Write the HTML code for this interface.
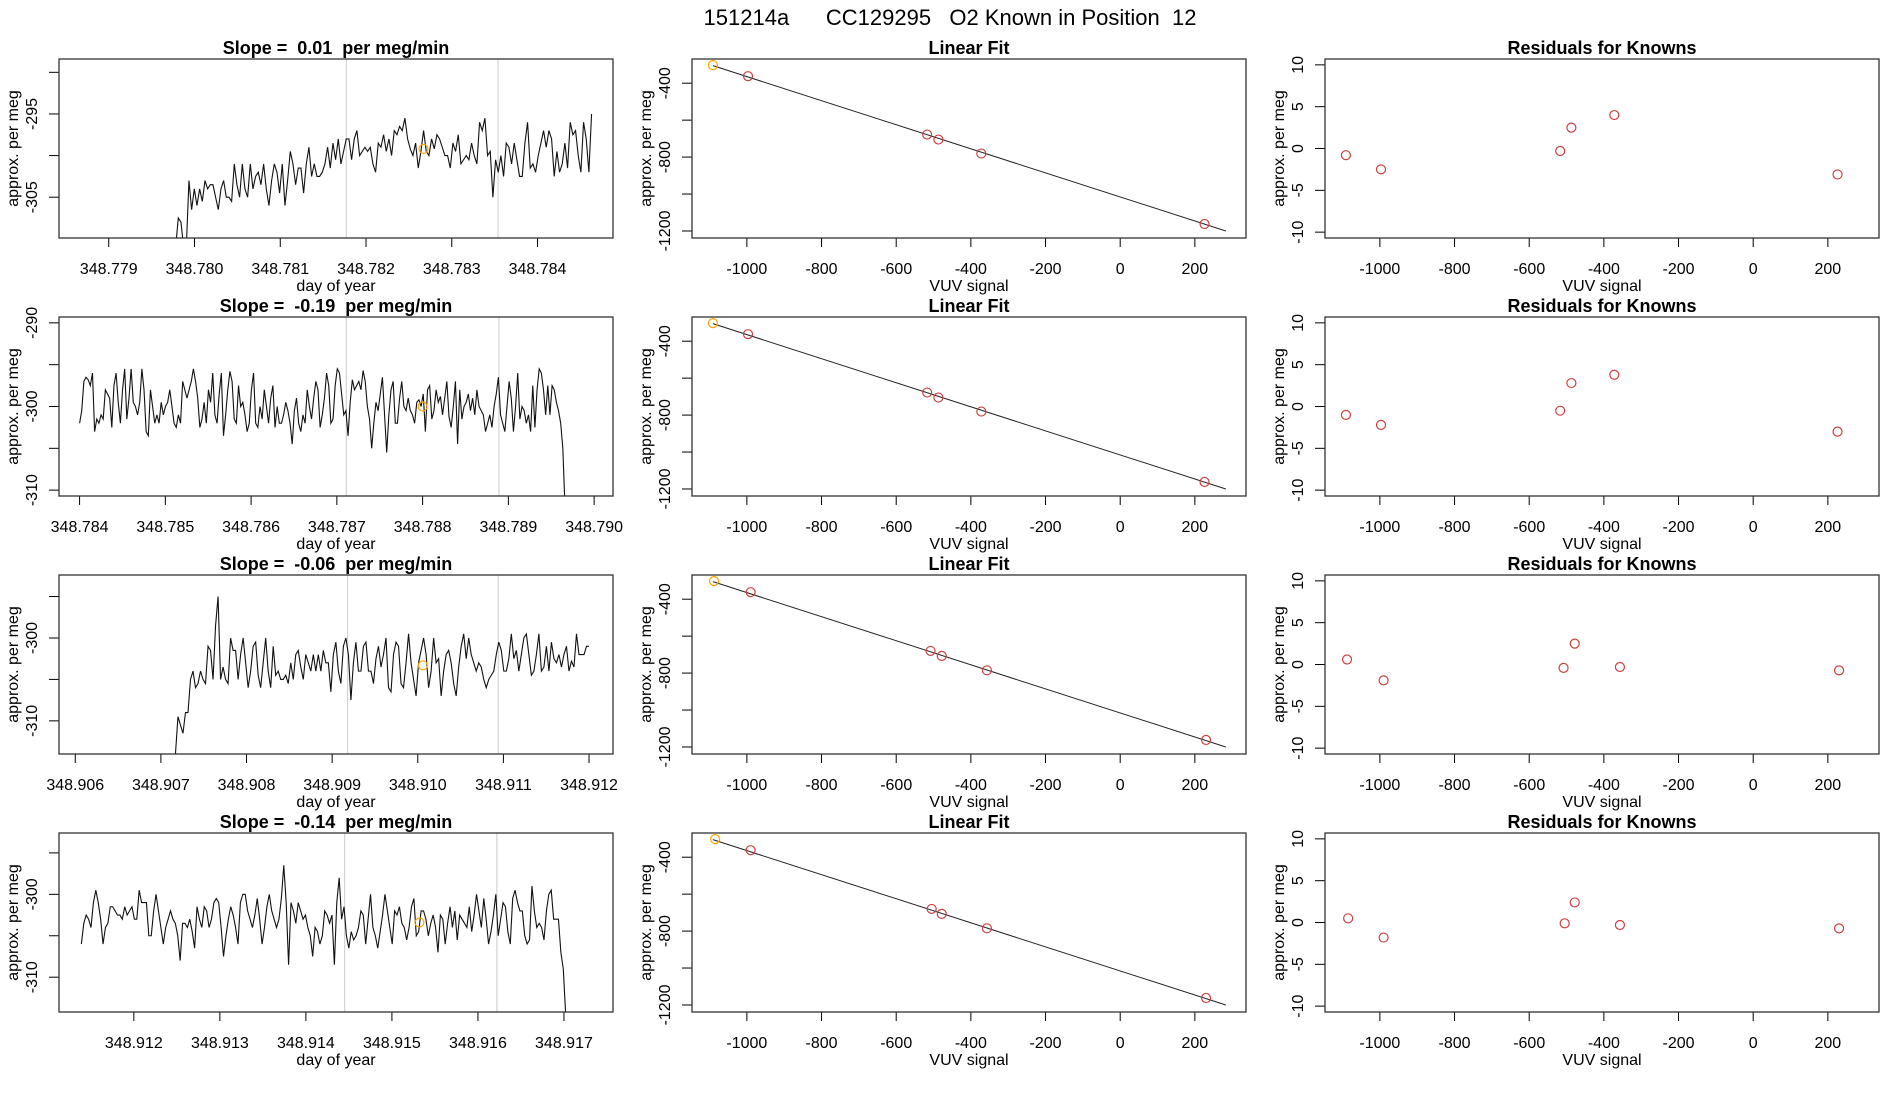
<!DOCTYPE html>
<html><head><meta charset="utf-8"><style>
html,body{margin:0;padding:0;background:#fff;}
svg{display:block;font-family:"Liberation Sans",Arial,sans-serif;}
svg text{white-space:pre;}
</style></head><body>
<svg id="fig" width="1900" height="1100" viewBox="0 0 1900 1100">
<rect x="0" y="0" width="1900" height="1100" fill="#fff"/>
<text x="950" y="25" font-size="22" text-anchor="middle" xml:space="preserve">151214a      CC129295   O2 Known in Position  12</text>
</svg>
<script>
// ---------- DATA ----------
const slopeTitles = ["Slope =  0.01  per meg/min","Slope =  -0.19  per meg/min","Slope =  -0.06  per meg/min","Slope =  -0.14  per meg/min"];
const tsStart = [348.77978, 348.78400, 348.90717, 348.91139];
const tsEnd   = [348.78463, 348.78966, 348.91200, 348.91702];
const tsXRange = [[348.77842,348.78488],[348.78376,348.79022],[348.90581,348.91228],[348.91113,348.91757]];
const tsYRange = [[-309.9,-288.4],[-310.7,-289.3],[-314,-292.4],[-314.2,-292.6]];
const tsXTicks = [[348.779,348.780,348.781,348.782,348.783,348.784],[348.784,348.785,348.786,348.787,348.788,348.789,348.790],[348.906,348.907,348.908,348.909,348.910,348.911,348.912],[348.912,348.913,348.914,348.915,348.916,348.917]];
const tsYTicks = [[-305,-300,-295,-290],[-310,-305,-300,-295,-290],[-310,-305,-300,-295],[-310,-305,-300,-295]];
const tsYLabels = [[-305,-295],[-310,-300,-290],[-310,-300],[-310,-300]];
const tsVLines = [[348.78177,348.78354],[348.78711,348.78889],[348.90918,348.91094],[348.91445,348.91622]];
const tsMarkX = [348.78267, 348.78800, 348.91006, 348.91532];
const tsMarkY = [-299.2, -300, -303.3, -303.4];
const ts1 = [-311,-307.5,-308,-311,-311,-303,-306.5,-304,-306,-304,-305.5,-303,-304,-303.5,-303.5,-305,-306.5,-304,-303,-305,-305,-305.5,-301,-303.5,-305,-301,-304,-305,-301,-304,-302.5,-302,-303.5,-301,-304,-306,-303,-301,-302,-304.5,-301,-306,-303,-299.5,-301,-303.5,-301.5,-301.5,-304.5,-301,-299,-302.5,-301,-302.5,-302.5,-302,-301,-299,-301.5,-298.5,-300.5,-298,-301,-299.5,-298,-298,-300.5,-298,-297,-300,-299.5,-299,-299.5,-299,-301,-302,-298.5,-299,-297.5,-299.5,-298,-300,-297,-297.5,-296.5,-297,-295.5,-298,-299.2,-300,-298.5,-301.5,-299.5,-297,-299.5,-300,-298,-299.2,-297.5,-298,-299,-300,-300,-301.5,-298.5,-299.5,-297.5,-301,-300.5,-300,-300.5,-298.5,-300,-301,-296,-297,-295.5,-300,-299.5,-305,-300.5,-302,-300,-302.5,-298.5,-299,-301,-298.5,-300.5,-302.5,-302.5,-298.5,-296,-301.5,-301,-302,-300,-298.5,-297,-299,-297,-298,-302.5,-299.5,-302,-301,-298.5,-301.5,-296,-297.5,-297,-300,-302,-296,-298,-302,-295];
const ts2 = [-302,-300.5,-297,-296.5,-296.8,-297.5,-296,-303,-301.5,-302,-301,-301.5,-298,-298.5,-299,-302.5,-297.5,-296,-299.5,-302,-298,-295.5,-301.5,-299,-295.5,-299.5,-300,-301,-299.5,-295.5,-298,-303,-303.5,-298,-300,-302,-301,-302,-299.5,-301,-300,-299.5,-298,-300,-302,-302.5,-301,-302,-297,-298,-299,-298,-297,-295.5,-297,-299,-302.5,-301.5,-299.5,-302,-298,-299.5,-296,-301,-302,-298.5,-296,-303.5,-301,-298,-295.8,-297,-301.5,-302,-297.5,-300,-299.5,-301,-303,-302,-298,-296,-302,-302.5,-300,-301.5,-298,-300,-302,-299,-297.5,-302.5,-300,-302,-302,-301,-299.5,-300.5,-302,-304.5,-300.5,-299,-302,-303,-301,-302,-298,-300,-301.5,-299,-297,-298,-302.5,-301,-299,-296,-297.5,-302,-301.5,-297.5,-295.5,-296,-298.5,-301,-300.5,-303.5,-299.5,-296.8,-298,-297.5,-297,-298,-295.7,-297,-300,-301.5,-305,-302,-299.5,-300.5,-298.5,-296.5,-301,-305.5,-301,-298,-297,-302,-302,-299,-297,-300,-300.5,-299,-300.5,-301,-302,-299.5,-299.2,-300,-298.5,-303,-298,-297.5,-301.5,-300.5,-298,-299.5,-298.8,-301,-299,-297,-301.2,-302.5,-300,-297,-304.5,-298,-301.5,-300,-299.5,-298.5,-300.5,-299,-301,-298,-300,-300.5,-301,-303,-302,-301,-302.5,-300,-298.5,-296.5,-301,-302,-303,-300,-297,-299,-303,-300,-296,-301.5,-300,-300.5,-302,-301,-303,-297.5,-302.5,-298,-295.5,-296,-298,-301,-297.5,-301,-297.5,-298,-299.5,-300.5,-302,-305,-312];
const ts3 = [-314,-309.5,-310.5,-311.5,-309,-309,-305,-304,-306,-305.5,-304,-305,-305.5,-301,-301.5,-305,-298.5,-295,-305,-303.5,-305,-305.5,-300,-301.5,-301.5,-305,-302,-300,-303,-306,-304,-301,-300.5,-304.5,-306,-303,-300,-304,-306,-301,-304.5,-304,-305,-305,-304.5,-305.5,-303,-305,-302,-301.5,-303.5,-305,-302,-303,-304,-302,-304,-302,-304,-301.5,-303,-303,-306.5,-302,-300.5,-304,-305.5,-301,-300,-302,-307.5,-303,-300.5,-304,-304,-301,-300.5,-304,-304,-305.5,-302.5,-301,-303.5,-302,-300,-306,-306.5,-302,-300.5,-301,-305.5,-306,-303,-299.5,-303,-305,-307,-303,-301.5,-300,-302,-306,-304,-300,-303,-302.5,-307,-304,-302,-301.5,-303,-305.5,-307,-303.5,-301,-299.5,-302.5,-300,-302,-303,-304,-303,-303.5,-305,-306,-305,-304.5,-304,-302,-300.5,-301.5,-304,-304,-302.5,-299.5,-302.5,-301.5,-304,-302,-300,-299.5,-302,-304.5,-304,-302,-299.5,-304,-303.5,-301,-304,-300.5,-302.5,-303,-302,-303.5,-302,-301,-304,-302.8,-303.5,-299.5,-302,-302,-302,-301,-301];
const ts4 = [-306,-303.5,-302.5,-303,-304,-301,-299.5,-301,-303,-306,-304,-303.5,-301.5,-301.5,-302,-302.5,-302.5,-303,-301.5,-302.5,-302,-301.5,-303,-303,-299.5,-301,-301,-301,-305,-305,-302,-300,-302,-304,-306,-304,-303,-302,-303,-303.5,-305,-308,-303.5,-303.5,-304,-303,-304.5,-306.5,-301.5,-303,-304,-301.5,-302,-304,-303,-301,-300.5,-301,-304,-307.5,-305,-303,-301.5,-302.5,-304,-306,-301,-300,-300,-302,-303,-304,-302.5,-300.5,-303,-306,-304,-301.5,-300,-302,-303,-304,-303,-300.5,-296.5,-301,-308.5,-301,-302,-303.5,-301,-302,-303,-302.5,-304,-305,-307.5,-304,-304.5,-306,-305,-302,-302.5,-303.5,-302.5,-308.5,-301,-298,-303,-301.5,-305,-306.5,-304.5,-305.5,-305,-304,-302,-302.5,-306,-303,-300,-304,-305,-306.5,-304.5,-302.5,-300,-302,-304,-306,-302,-302.5,-301.5,-303.5,-304,-305.5,-304,-301.5,-300.5,-305,-304.5,-302,-302,-303,-305,-303.5,-302.5,-304,-307,-302.5,-303,-306,-303.5,-301.5,-304,-302,-305.5,-302.5,-303,-303.5,-304,-301.5,-304.5,-302.5,-300,-302,-304,-300.5,-303,-306,-304.5,-302.5,-300,-305,-303,-301,-301.5,-304.5,-306,-300.5,-299.5,-301,-302,-302,-305,-306,-305.5,-299,-302,-304,-303.5,-304,-305.5,-302,-300,-299.5,-303,-303,-303,-307,-309,-314.5];
const tsSeries = [ts1, ts2, ts3, ts4];

// linear fit column
const fitXRange = [-1147, 337];
const fitYRange = [-1238, -269];
const fitXTicks = [-1000,-800,-600,-400,-200,0,200];
const fitYTicks = [-1200,-1000,-800,-600,-400];
const fitYLabels = [-1200,-800,-400];
const knownX = [[-1091,-997,-517,-487,-372,226],[-1091,-997,-517,-487,-372,226],[-1088,-990,-508,-478,-357,230],[-1085,-990,-505,-478,-357,230]];
const knownY = [[-302,-362,-678,-705,-781,-1162],[-302,-362,-678,-705,-781,-1162],[-302,-362,-680,-707,-785,-1162],[-302,-362,-680,-707,-785,-1162]];
const fitLineX = [-1091, 283];
const fitLineY = [-305, -1200];

// residual column
const resXRange = [-1147, 337];
const resYRange = [-10.7, 10.7];
const resYTicks = [-10,-5,0,5,10];
const residY = [[-0.8,-2.5,-0.3,2.5,4.0,-3.1],[-1.0,-2.2,-0.5,2.8,3.8,-3.0],[0.6,-1.9,-0.4,2.5,-0.3,-0.7],[0.5,-1.8,-0.1,2.4,-0.3,-0.7]];

// ---------- DRAWING ----------
const NS = "http://www.w3.org/2000/svg";
const svg = document.getElementById('fig');
const COLX = [59, 692, 1325], ROWY = [59, 317, 575, 833], PW = 554, PH = 179;
function el(tag, attrs, parent){ const e=document.createElementNS(NS,tag); for(const k in attrs) e.setAttribute(k,attrs[k]); (parent||svg).appendChild(e); return e; }
function fmt(v,d){ return d!=null ? v.toFixed(d) : String(v); }

function panel(col,row,opt){
  const x0=COLX[col], y0=ROWY[row];
  const g=el('g',{});
  
  
  const sx=v=>x0+(v-opt.xr[0])/(opt.xr[1]-opt.xr[0])*PW;
  const sy=v=>y0+PH-(v-opt.yr[0])/(opt.yr[1]-opt.yr[0])*PH;
  const cid='clip'+col+'_'+row;
  const cp=el('clipPath',{id:cid},g); el('rect',{x:x0,y:y0,width:PW,height:PH},cp);
  const plot=el('g',{'clip-path':'url(#'+cid+')'},g);
  const t=el('text',{x:x0+PW/2,y:y0-5,'font-size':18,'font-weight':'bold','text-anchor':'middle'},g);
  t.textContent=opt.title;
  
  
  const xa=el('g',{},g);
  
  
  const xt=opt.xt;
  el('line',{x1:sx(xt[0]),x2:sx(xt[xt.length-1]),y1:y0+PH,y2:y0+PH,stroke:'#000','stroke-width':1},xa);
  xt.forEach(v=>{
    el('line',{x1:sx(v),x2:sx(v),y1:y0+PH,y2:y0+PH+9,stroke:'#000','stroke-width':1},xa);
    const l=el('text',{x:sx(v),y:y0+PH+36,'font-size':16,'text-anchor':'middle'},xa);
    l.textContent=fmt(v,opt.xd);
  });
  if(opt.xlab){ const l=el('text',{x:x0+PW/2,y:y0+PH+53,'font-size':16,'text-anchor':'middle'},g); l.textContent=opt.xlab;
    
     }
  const ya=el('g',{},g);
  
  
  const yt=opt.yt;
  el('line',{x1:x0,x2:x0,y1:sy(yt[0]),y2:sy(yt[yt.length-1]),stroke:'#000'},ya);
  yt.forEach(v=>{
    el('line',{x1:x0-10,x2:x0,y1:sy(v),y2:sy(v),stroke:'#000'},ya);
  });
  opt.yl.forEach(v=>{
    const l=el('text',{x:0,y:0,'font-size':16,'text-anchor':'middle',transform:`translate(${x0-22},${sy(v)}) rotate(-90)`},ya);
    l.textContent=String(v);
  });
  const yl=el('text',{x:0,y:0,'font-size':16,'text-anchor':'middle',transform:`translate(${x0-41},${y0+PH/2}) rotate(-90)`},g);
  yl.textContent='approx. per meg';
  
  
  return {g,plot,sx,sy,x0,y0};
}

for(let r=0;r<4;r++){
  const p=panel(0,r,{name:'timeseries-panel-'+(r+1),title:slopeTitles[r],xr:tsXRange[r],yr:tsYRange[r],xt:tsXTicks[r],xd:3,yt:tsYTicks[r],yl:tsYLabels[r],xlab:'day of year'});
  tsVLines[r].forEach(v=>{
    const l=el('line',{x1:p.sx(v),x2:p.sx(v),y1:p.y0,y2:p.y0+PH,stroke:'#d3d3d3','stroke-width':1.2},p.plot);
    
    
  });
  const vals=tsSeries[r], n=vals.length, step=(tsEnd[r]-tsStart[r])/(n-1);
  const pts=vals.map((v,i)=>p.sx(tsStart[r]+i*step).toFixed(2)+','+p.sy(v).toFixed(2)).join(' ');
  const pl=el('polyline',{points:pts,fill:'none',stroke:'#111','stroke-width':1.1},p.plot);
  
  
  const c=el('circle',{cx:p.sx(tsMarkX[r]),cy:p.sy(tsMarkY[r]),r:4.5,fill:'none',stroke:'#ffa500','stroke-width':1.2},p.plot);
  
  
  el('rect',{x:p.x0,y:p.y0,width:PW,height:PH,fill:'none',stroke:'#333','stroke-width':1.3},p.g);

  const q=panel(1,r,{name:'linear-fit-panel-'+(r+1),title:'Linear Fit',xr:fitXRange,yr:fitYRange,xt:fitXTicks,yt:fitYTicks,yl:fitYLabels,xlab:'VUV signal'});
  const fl=el('line',{x1:q.sx(fitLineX[0]),y1:q.sy(fitLineY[0]),x2:q.sx(fitLineX[1]),y2:q.sy(fitLineY[1]),stroke:'#222','stroke-width':1},q.plot);
  
  
  knownX[r].forEach((xv,i)=>{
    const c=el('circle',{cx:q.sx(xv),cy:q.sy(knownY[r][i]),r:4.5,fill:'none',stroke:i===0?'#ffa500':'#cd3f3f','stroke-width':1.2},q.plot);
    
    
  });
  el('rect',{x:q.x0,y:q.y0,width:PW,height:PH,fill:'none',stroke:'#333','stroke-width':1.3},q.g);

  const s=panel(2,r,{name:'residuals-panel-'+(r+1),title:'Residuals for Knowns',xr:resXRange,yr:resYRange,xt:fitXTicks,yt:resYTicks,yl:resYTicks,xlab:'VUV signal'});
  knownX[r].forEach((xv,i)=>{
    const c=el('circle',{cx:s.sx(xv),cy:s.sy(residY[r][i]),r:4.5,fill:'none',stroke:'#cd3f3f','stroke-width':1.2},s.plot);
    
    
  });
  el('rect',{x:s.x0,y:s.y0,width:PW,height:PH,fill:'none',stroke:'#333','stroke-width':1.3},s.g);
}
</script>
</body></html>
